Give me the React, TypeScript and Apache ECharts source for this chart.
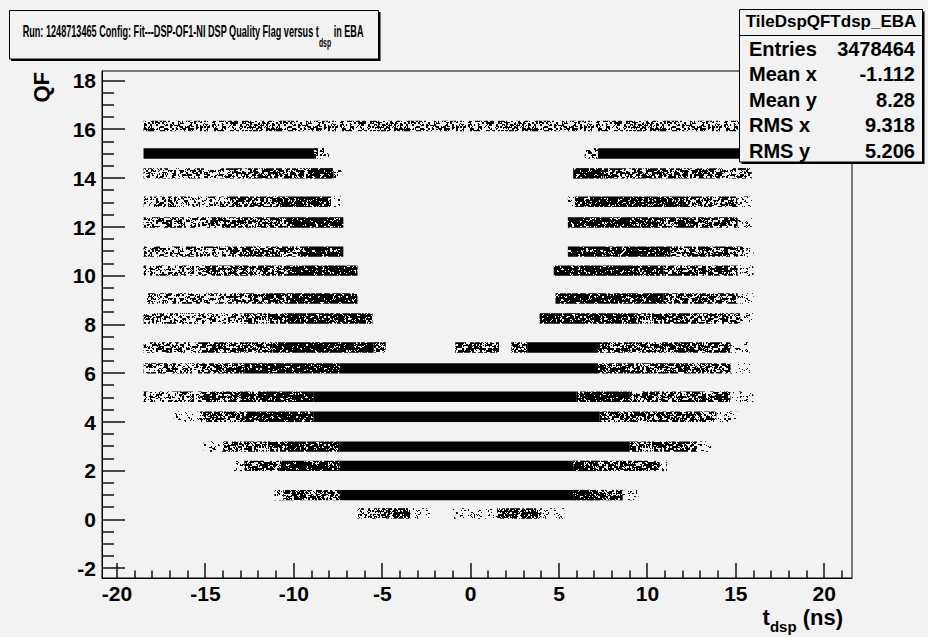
import { useEffect, useRef } from "react";
import * as echarts from "echarts";

// Axis set-up
const X_RANGE = [-20.85, 21.57];
const Y_RANGE = [-2.4, 18.4];
const X_TICKS = [-20, -15, -10, -5, 0, 5, 10, 15, 20];
const Y_TICKS = [-2, 0, 2, 4, 6, 8, 10, 12, 14, 16, 18];

// Centre of each populated quality-flag band
const QF_ROWS = [16.14, 15.02, 14.2, 13.04, 12.18, 10.99, 10.21, 9.07, 8.25, 7.06, 6.2, 5.04, 4.22, 2.99, 2.2, 1.0, 0.25];

// Occupancy along t_dsp for each band: [t start, t end, density class 1 (few) .. 5 (saturated)]
const ROW_SEGMENTS: number[][][] = [
  [[-18.5, 16.2, 2]],
  [[-18.5, -8.85, 5], [-8.85, -8.0, 2], [6.45, 7.2, 2], [7.2, 16.2, 5]],
  [[-18.5, -13.4, 2], [-13.4, -9.2, 3], [-9.2, -7.75, 4], [-7.75, -7.3, 1], [5.8, 7.5, 4], [7.5, 14.3, 3], [14.3, 15.9, 2]],
  [[-18.5, -13.5, 2], [-13.5, -11.0, 3], [-11.0, -7.9, 4], [-7.9, -7.3, 1], [5.5, 5.9, 1], [5.9, 12.0, 4], [12.0, 15.1, 3], [15.1, 15.9, 1]],
  [[-18.5, -14.7, 2], [-14.7, -10.4, 3], [-10.4, -7.2, 4], [5.5, 10.6, 4], [10.6, 15.1, 3], [15.1, 15.9, 1]],
  [[-18.5, -13.8, 2], [-13.8, -9.6, 3], [-9.6, -7.2, 4], [5.5, 11.3, 4], [11.3, 15.4, 3], [15.4, 16.0, 1]],
  [[-18.5, -14.7, 2], [-14.7, -10.4, 3], [-10.4, -6.4, 4], [4.7, 10.9, 4], [10.9, 15.1, 3], [15.1, 16.0, 1]],
  [[-18.3, -13.4, 2], [-13.4, -10.4, 3], [-10.4, -6.4, 4], [4.8, 10.9, 4], [10.9, 15.1, 3], [15.1, 16.0, 1]],
  [[-18.5, -13.0, 2], [-13.0, -10.4, 3], [-10.4, -5.55, 4], [3.9, 9.4, 4], [9.4, 15.25, 3], [15.25, 16.0, 1]],
  [[-18.5, -15.3, 2], [-15.3, -11.2, 3], [-11.2, -5.5, 4], [-5.5, -4.8, 3], [-0.87, 1.6, 3], [2.3, 3.2, 3], [3.2, 7.2, 5], [7.2, 14.7, 3], [14.7, 15.8, 1]],
  [[-18.5, -15.3, 2], [-15.3, -12.8, 3], [-12.8, -7.4, 4], [-7.4, 7.2, 5], [7.2, 14.7, 3], [14.7, 15.8, 1]],
  [[-18.5, -15.3, 2], [-15.3, -13.0, 3], [-13.0, -8.9, 4], [-8.9, 6.0, 5], [6.0, 9.0, 4], [9.0, 14.7, 3], [14.7, 16.0, 1]],
  [[-16.8, -15.3, 1], [-15.3, -12.8, 3], [-12.8, -8.9, 4], [-8.9, 7.3, 5], [7.3, 13.9, 3], [13.9, 15.1, 1]],
  [[-15.1, -14.0, 1], [-14.0, -10.4, 3], [-10.4, -7.4, 4], [-7.4, 9.0, 5], [9.0, 12.8, 3], [12.8, 13.6, 1]],
  [[-13.4, -12.8, 1], [-12.8, -10.8, 3], [-10.8, -7.4, 4], [-7.4, 5.8, 5], [5.8, 7.2, 4], [7.2, 10.7, 3], [10.7, 11.1, 1]],
  [[-11.1, -10.6, 1], [-10.6, -7.4, 3], [-7.4, 5.8, 5], [5.8, 7.2, 4], [7.2, 8.6, 3], [8.6, 9.5, 1]],
  [[-6.4, -4.7, 2], [-4.7, -3.4, 3], [-3.4, -2.3, 1], [-1.0, 1.5, 1], [1.5, 4.0, 3], [4.0, 5.3, 1]],
];

const HIST_NAME = "TileDspQFTdsp_EBA";
const STAT_NAMES = ["Entries", "Mean x", "Mean y", "RMS x", "RMS y"];
const STAT_VALUES = ["3478464", "-1.112", "8.28", "9.318", "5.206"];

const FONT = "'Liberation Sans', Arial, Helvetica, sans-serif";
const BG = "#f2f2f2";
const BAND = 0.43; // thickness of a flag band in QF units
const DOT_SHARE = [0, 0.14, 0.42, 0.64, 0.86];
const TICK_LEN = { xMajor: 15, xMinor: 7.5, yMajor: 23, yMinor: 12 };

function hash2(i: number, j: number): number {
  let h = (Math.imul(i, 374761393) + Math.imul(j, 668265263)) | 0;
  h = Math.imul(h ^ (h >>> 13), 1274126177);
  h ^= h >>> 16;
  return (h >>> 0) / 4294967296;
}

// Dotted fill texture used for the partially populated cells
function grainTile(share: number, size: number): string {
  const n = size * size;
  const vals = new Float32Array(n);
  for (let j = 0; j < size; j++) {
    for (let i = 0; i < size; i++) {
      vals[j * size + i] = 0.4 * hash2(i, j) + 0.6 * hash2((i >> 1) + 4099, (j >> 1) + 7919);
    }
  }
  const sorted = Array.from(vals).sort((a, b) => a - b);
  const cut = sorted[Math.floor(share * (n - 1))];
  const canvas = document.createElement("canvas");
  canvas.width = size;
  canvas.height = size;
  const ctx = canvas.getContext("2d")!;
  const img = ctx.createImageData(size, size);
  for (let k = 0; k < n; k++) {
    img.data[k * 4 + 3] = vals[k] <= cut ? 255 : 0;
  }
  ctx.putImageData(img, 0, 0);
  return canvas.toDataURL();
}

function minorTicks(lo: number, hi: number, step: number, major: number[]): number[] {
  const out: number[] = [];
  const start = Math.ceil(lo / step);
  const end = Math.floor(hi / step);
  for (let k = start; k <= end; k++) {
    const v = Math.round(k * step * 1000) / 1000;
    if (!major.includes(v)) out.push(v);
  }
  return out;
}

export default function App() {
  const ref = useRef<HTMLDivElement>(null);

  useEffect(() => {
    if (!ref.current) return;
    const chart = echarts.init(ref.current, undefined, { renderer: "svg" });

    const TILE = 128;
    const fills: any[] = DOT_SHARE.map((s, lvl) =>
      lvl === 0 ? "none" : { image: grainTile(s, TILE), repeat: "repeat", imageWidth: TILE, imageHeight: TILE }
    );
    fills.push("#000");

    const segData = ROW_SEGMENTS.flatMap((segs, r) => segs.map(([a, b, d]) => [a, b, QF_ROWS[r], d]));

    // tick list: [value, length, 0 = t axis / 1 = QF axis]
    const tickList: number[][] = [
      ...X_TICKS.map((v) => [v, TICK_LEN.xMajor, 0]),
      ...minorTicks(X_RANGE[0], X_RANGE[1], 1, X_TICKS).map((v) => [v, TICK_LEN.xMinor, 0]),
      ...Y_TICKS.map((v) => [v, TICK_LEN.yMajor, 1]),
      ...minorTicks(Y_RANGE[0], Y_RANGE[1], 0.5, Y_TICKS).map((v) => [v, TICK_LEN.yMinor, 1]),
    ];

    const tickLabel = { fontSize: 21, fontWeight: "bold" as const, color: "#000", fontFamily: FONT };
    const Z = 100;

    const statTexts: any[] = [];
    STAT_NAMES.forEach((name, i) => {
      const y = 48.5 + i * 25.6;
      statTexts.push({
        type: "text",
        z: Z,
        x: 749,
        y,
        style: { text: name, fontSize: 20, fontWeight: "bold", fontFamily: FONT, fill: "#000", textAlign: "left", textVerticalAlign: "middle" },
      });
      statTexts.push({
        type: "text",
        z: Z,
        x: 915,
        y,
        style: { text: STAT_VALUES[i], fontSize: 20, fontWeight: "bold", fontFamily: FONT, fill: "#000", textAlign: "right", textVerticalAlign: "middle" },
      });
    });

    chart.setOption({
      animation: false,
      backgroundColor: BG,
      grid: { left: 102, top: 71, width: 750, height: 507, show: true, borderColor: "#000", borderWidth: 1, backgroundColor: "transparent" },
      xAxis: {
        type: "value",
        min: X_RANGE[0],
        max: X_RANGE[1],
        position: "bottom",
        axisLine: { show: true, onZero: false, lineStyle: { color: "#000", width: 1 } },
        axisTick: { show: false },
        axisLabel: { ...tickLabel, margin: 5, customValues: X_TICKS },
        splitLine: { show: false },
      },
      yAxis: {
        type: "value",
        min: Y_RANGE[0],
        max: Y_RANGE[1],
        position: "left",
        axisLine: { show: true, onZero: false, lineStyle: { color: "#000", width: 1 } },
        axisTick: { show: false },
        axisLabel: { ...tickLabel, margin: 6, customValues: Y_TICKS },
        splitLine: { show: false },
      },
      series: [
        {
          type: "custom",
          name: "QF vs t_dsp",
          clip: false,
          data: segData,
          encode: { x: [0, 1], y: 2 },
          renderItem: (params: any, api: any) => {
            const x0 = api.value(0);
            const x1 = api.value(1);
            const y = api.value(2);
            const lvl = api.value(3);
            const p0 = api.coord([x0, y + BAND / 2]);
            const p1 = api.coord([x1, y - BAND / 2]);
            const cell = {
              type: "rect",
              shape: { x: p0[0], y: p0[1], width: p1[0] - p0[0], height: p1[1] - p0[1] },
              style: { fill: fills[lvl] },
            };
            if (params.dataIndex !== 0) return cell;
            // the first item also carries the frame's tick marks
            const marks = tickList.map(([v, len, which]) => {
              if (which === 0) {
                const p = api.coord([v, Y_RANGE[0]]);
                return { type: "rect", shape: { x: Math.round(p[0]) - 0.75, y: p[1] - len, width: 1.5, height: len }, style: { fill: "#111" } };
              }
              const p = api.coord([X_RANGE[0], v]);
              return { type: "rect", shape: { x: p[0], y: Math.round(p[1]) - 0.75, width: len, height: 1.5 }, style: { fill: "#111" } };
            });
            return { type: "group", children: [cell, ...marks] };
          },
        },
      ],
      graphic: [
        // title pave
        { type: "rect", z: Z, shape: { x: 11, y: 12, width: 369.5, height: 49 }, style: { fill: "#000" } },
        { type: "rect", z: Z, shape: { x: 9.5, y: 10.5, width: 369, height: 48.5 }, style: { fill: BG, stroke: "#000", lineWidth: 1 } },
        {
          type: "text",
          z: Z,
          x: 193,
          y: 31.5,
          scaleX: 0.57,
          style: {
            text: "{m|Run: 1248713465 Config: Fit---DSP-OF1-NI DSP Quality Flag versus t}{s|dsp}{m| in EBA}",
            textAlign: "center",
            textVerticalAlign: "middle",
            fill: "#000",
            rich: {
              m: { fontSize: 16, fontWeight: "bold", fontFamily: FONT, lineHeight: 34, verticalAlign: "middle", fill: "#000" },
              s: { fontSize: 12, fontWeight: "bold", fontFamily: FONT, verticalAlign: "bottom", fill: "#000" },
            },
          },
        },
        // statistics box
        { type: "rect", z: Z, shape: { x: 741.5, y: 11.5, width: 183, height: 152.5 }, style: { fill: "#000" } },
        { type: "rect", z: Z, shape: { x: 739.5, y: 9.5, width: 183, height: 152.5 }, style: { fill: BG, stroke: "#000", lineWidth: 1 } },
        { type: "line", z: Z, shape: { x1: 739.5, y1: 35.5, x2: 922.5, y2: 35.5 }, style: { stroke: "#000", lineWidth: 1 } },
        {
          type: "text",
          z: Z,
          x: 831,
          y: 21,
          style: { text: HIST_NAME, fontSize: 17, fontWeight: "bold", fontFamily: FONT, fill: "#000", textAlign: "center", textVerticalAlign: "middle" },
        },
        ...statTexts,
        // axis titles
        {
          type: "text",
          z: Z,
          x: 41.5,
          y: 72,
          rotation: Math.PI / 2,
          style: { text: "QF", fontSize: 22, fontWeight: "bold", fontFamily: FONT, fill: "#000", textAlign: "right", textVerticalAlign: "middle" },
        },
        {
          type: "text",
          z: Z,
          x: 843,
          y: 617,
          style: {
            text: "{m|t}{s|dsp}{m| (ns)}",
            textAlign: "right",
            textVerticalAlign: "middle",
            fill: "#000",
            rich: {
              m: { fontSize: 22, fontWeight: "bold", fontFamily: FONT, lineHeight: 34, verticalAlign: "middle", fill: "#000" },
              s: { fontSize: 15, fontWeight: "bold", fontFamily: FONT, verticalAlign: "bottom", fill: "#000" },
            },
          },
        },
      ],
    });

    return () => chart.dispose();
  }, []);

  return (
    <div
      ref={ref}
      style={{ position: "fixed", left: 0, top: 0, width: 928, height: 637, background: BG }}
    />
  );
}
